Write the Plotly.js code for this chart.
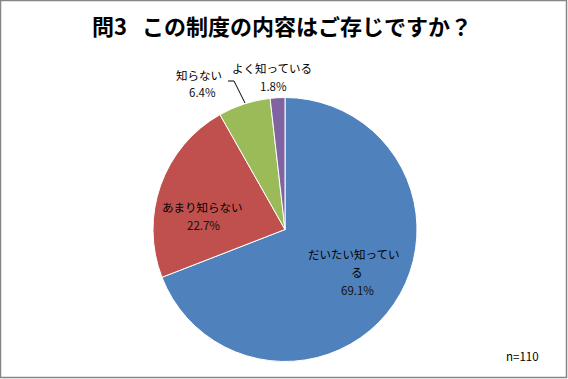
<!DOCTYPE html>
<html>
<head>
<meta charset="utf-8">
<script src="https://cdn.plot.ly/plotly-3.0.1.min.js"></script>
<style>html,body{margin:0;padding:0;background:#fff;}#chart{width:568px;height:379px;}</style>
</head>
<body>
<div id="chart"></div>
<script>
// Data
const categories = ['だいたい知っている', 'あまり知らない', '知らない', 'よく知っている'];
const displayNames = ['だいたい知ってい|る', 'あまり知らない', '知らない', 'よく知っている'];
const percents = [69.1, 22.7, 6.4, 1.8];
const sliceColors = ['#4F81BD', '#C0504D', '#9BBB59', '#8064A2'];
const titleText = '問3\u00A0\u00A0\u00A0この制度の内容はご存じですか？';
const noteText = 'n=110';

// Label line positions in pixels (style only): one [x, y] per text line
const namePos = [[[354, 254], [357, 272]], [[202, 207]], [[199, 75]], [[272, 68]]];
const pctPos = [[357, 290], [203, 225], [202, 92], [273, 86]];
const W = 568, H = 379;
const px = x => x / W, py = y => 1 - y / H;
const font = 'Noto Sans CJK JP, sans-serif';

function ann(text, p, color) {
  return {
    xref: 'paper', yref: 'paper', x: px(p[0]), y: py(p[1]),
    xanchor: 'center', yanchor: 'middle', showarrow: false,
    text: text, font: {family: font, size: 11.5, color: color || '#000'}
  };
}
const annotations = [];
categories.forEach((c, i) => {
  displayNames[i].split('|').forEach((line, j) => annotations.push(ann(line, namePos[i][j])));
  annotations.push(ann(percents[i].toFixed(1) + '%', pctPos[i], '#111'));
});
annotations.push(ann(noteText, [522, 356]));

const data = [{
  type: 'pie',
  labels: categories,
  values: percents,
  sort: false,
  direction: 'clockwise',
  rotation: 0,
  marker: {colors: sliceColors, line: {color: '#fff', width: 1}},
  textinfo: 'none',
  hoverinfo: 'label+percent',
  showlegend: false,
  domain: {x: [153 / W, 417 / W], y: [1 - 362 / H, 1 - 97 / H]}
}];

const layout = {
  width: W, height: H,
  margin: {l: 0, r: 0, t: 0, b: 0},
  paper_bgcolor: '#fff',
  showlegend: false,
  title: {
    text: '<b>' + titleText + '</b>',
    x: px(282), xanchor: 'center', y: py(27), yanchor: 'middle',
    font: {family: font, size: 22, color: '#000'}
  },
  annotations: annotations,
  shapes: [
    {type: 'rect', xref: 'paper', yref: 'paper', x0: px(0.5), x1: px(566.5), y0: py(0.5), y1: py(377.5),
     line: {color: '#868686', width: 1.5}},
    {type: 'path', xref: 'paper', yref: 'paper',
     path: 'M ' + px(228) + ',' + py(81) + ' L ' + px(234) + ',' + py(81) + ' L ' + px(245) + ',' + py(103),
     line: {color: '#000', width: 1}}
  ]
};

Plotly.newPlot('chart', data, layout, {displayModeBar: false, staticPlot: true});
</script>
</body>
</html>
